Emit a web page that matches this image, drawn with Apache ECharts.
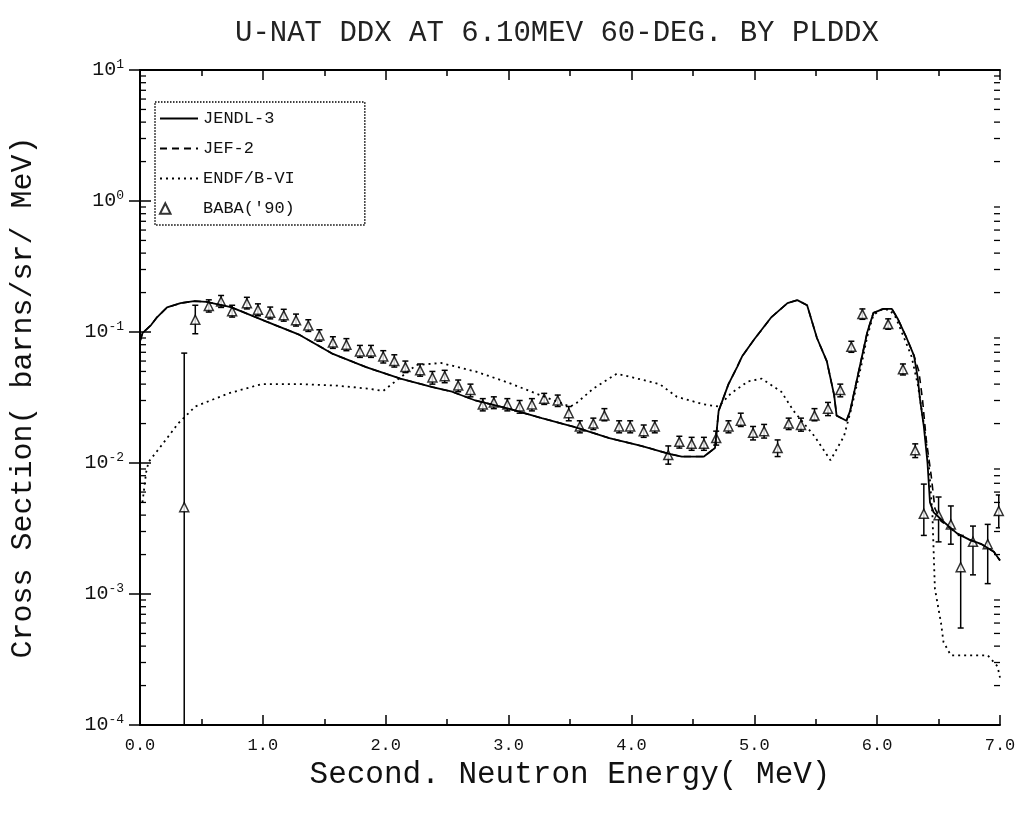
<!DOCTYPE html>
<html>
<head>
<meta charset="utf-8">
<script src="https://cdn.jsdelivr.net/npm/echarts@6/dist/echarts.min.js"></script>
<style>
html,body{margin:0;padding:0;background:#fff;}
#chart{width:1030px;height:817px;}
</style>
</head>
<body>
<div id="chart"></div>
<script>
// ---- Data ----
const titleText = "U-NAT DDX AT 6.10MEV 60-DEG. BY PLDDX";
const xTitle = "Second. Neutron Energy( MeV)";
const yTitle = "Cross Section( barns/sr/ MeV)";
const xTickLabels = ["0.0","1.0","2.0","3.0","4.0","5.0","6.0","7.0"];
const yExponents = [1, 0, -1, -2, -3, -4];
const minorMultipliers = [2,3,4,5,6,7,8,9];
const legendNames = ["JENDL-3", "JEF-2", "ENDF/B-VI", "BABA('90)"];

// JENDL-3 [E (MeV), DDX]
const jendl3 = [[0.00,0.085],[0.02,0.098],[0.09,0.113],[0.14,0.130],[0.22,0.154],[0.33,0.166],[0.44,0.172],[0.54,0.170],[0.74,0.155],[1.03,0.120],[1.30,0.095],[1.57,0.068],[1.84,0.054],[2.12,0.044],[2.38,0.038],[2.54,0.035],[2.73,0.030],[3.00,0.026],[3.27,0.022],[3.54,0.0188],[3.82,0.0155],[4.08,0.0135],[4.30,0.0118],[4.41,0.0112],[4.59,0.0112],[4.68,0.013],[4.71,0.025],[4.79,0.040],[4.86,0.054],[4.90,0.065],[5.00,0.088],[5.14,0.130],[5.27,0.166],[5.35,0.175],[5.43,0.160],[5.51,0.090],[5.59,0.060],[5.65,0.033],[5.67,0.023],[5.75,0.021],[5.78,0.025],[5.85,0.050],[5.92,0.100],[5.97,0.140],[6.05,0.150],[6.12,0.150],[6.17,0.125],[6.24,0.090],[6.30,0.066],[6.33,0.045],[6.35,0.030],[6.38,0.019],[6.41,0.010],[6.43,0.005],[6.46,0.0042],[6.55,0.0035],[6.65,0.0029],[6.75,0.0026],[6.85,0.0024],[6.95,0.0021],[7.00,0.0018]];

// JEF-2 [E, DDX]
const jef2 = [[0.00,0.085],[0.02,0.098],[0.09,0.113],[0.14,0.130],[0.22,0.154],[0.33,0.166],[0.44,0.172],[0.54,0.170],[0.74,0.155],[1.03,0.120],[1.30,0.095],[1.57,0.068],[1.84,0.054],[2.12,0.044],[2.38,0.038],[2.54,0.035],[2.73,0.030],[3.00,0.026],[3.27,0.022],[3.54,0.0188],[3.82,0.0155],[4.08,0.0135],[4.30,0.0118],[4.41,0.0112],[4.59,0.0112],[4.68,0.013],[4.71,0.025],[4.79,0.040],[4.86,0.054],[4.90,0.065],[5.00,0.088],[5.14,0.130],[5.27,0.166],[5.35,0.175],[5.43,0.160],[5.51,0.090],[5.59,0.060],[5.65,0.033],[5.67,0.023],[5.75,0.021],[5.78,0.025],[5.85,0.050],[5.92,0.100],[5.97,0.140],[6.05,0.150],[6.12,0.150],[6.17,0.125],[6.24,0.090],[6.30,0.066],[6.34,0.050],[6.37,0.030],[6.40,0.015],[6.44,0.008],[6.47,0.0045],[6.52,0.0036],[6.65,0.0029],[6.75,0.0026],[6.85,0.0024],[6.95,0.0021],[7.00,0.0018]];

// ENDF/B-VI [E, DDX]
const endfb6 = [[0.02,0.005],[0.05,0.0085],[0.07,0.0102],[0.18,0.0138],[0.31,0.020],[0.45,0.027],[0.72,0.034],[0.99,0.040],[1.30,0.040],[1.60,0.039],[1.85,0.037],[1.98,0.0355],[2.05,0.040],[2.25,0.056],[2.45,0.058],[2.73,0.050],[3.00,0.041],[3.22,0.034],[3.50,0.027],[3.54,0.028],[3.69,0.037],[3.88,0.048],[4.01,0.045],[4.23,0.040],[4.37,0.032],[4.59,0.028],[4.71,0.027],[4.81,0.034],[4.95,0.042],[5.06,0.044],[5.22,0.035],[5.32,0.025],[5.49,0.016],[5.62,0.0105],[5.73,0.016],[5.79,0.026],[5.87,0.055],[5.92,0.093],[5.97,0.135],[6.03,0.148],[6.10,0.148],[6.15,0.130],[6.22,0.090],[6.28,0.065],[6.33,0.040],[6.38,0.020],[6.42,0.010],[6.45,0.004],[6.47,0.0011],[6.52,0.0006],[6.54,0.00043],[6.60,0.00034],[6.90,0.00034],[6.98,0.00028],[7.00,0.00023]];

// BABA('90) measurement: energy, value, error-bar low, error-bar high
const babaE  = [0.36,0.45,0.56,0.66,0.75,0.87,0.96,1.06,1.17,1.27,1.37,1.46,1.57,1.68,1.79,1.88,1.98,2.07,2.16,2.28,2.38,2.48,2.59,2.69,2.79,2.88,2.99,3.09,3.19,3.29,3.40,3.49,3.58,3.69,3.78,3.90,3.99,4.10,4.19,4.30,4.39,4.49,4.59,4.69,4.79,4.89,4.99,5.08,5.19,5.28,5.38,5.49,5.60,5.70,5.79,5.88,6.09,6.21,6.31,6.38,6.50,6.60,6.68,6.78,6.90,6.99];
const babaV  = [0.0046,0.124,0.158,0.171,0.144,0.166,0.148,0.140,0.134,0.123,0.112,0.094,0.083,0.080,0.071,0.071,0.065,0.060,0.054,0.051,0.045,0.046,0.039,0.036,0.028,0.029,0.028,0.027,0.028,0.031,0.030,0.024,0.019,0.020,0.023,0.019,0.019,0.0175,0.019,0.0115,0.0145,0.014,0.014,0.0155,0.019,0.021,0.017,0.0175,0.013,0.020,0.0195,0.023,0.026,0.036,0.077,0.137,0.115,0.052,0.0125,0.0041,0.0040,0.0034,0.0016,0.0025,0.0024,0.0043];
const babaLo = [0.0001,0.097,0.142,0.154,0.130,0.150,0.133,0.126,0.121,0.111,0.101,0.085,0.075,0.072,0.064,0.064,0.058,0.054,0.049,0.046,0.040,0.041,0.035,0.032,0.025,0.026,0.025,0.024,0.025,0.028,0.027,0.021,0.017,0.018,0.021,0.017,0.017,0.0157,0.017,0.0098,0.013,0.0125,0.0125,0.0137,0.017,0.019,0.015,0.0155,0.0112,0.018,0.0175,0.021,0.023,0.032,0.070,0.125,0.105,0.047,0.011,0.0028,0.0025,0.0024,0.00055,0.0014,0.0012,0.0032];
const babaHi = [0.069,0.160,0.176,0.190,0.160,0.184,0.164,0.155,0.149,0.137,0.124,0.104,0.092,0.089,0.079,0.079,0.072,0.067,0.060,0.057,0.050,0.051,0.043,0.040,0.031,0.032,0.031,0.030,0.031,0.034,0.033,0.027,0.021,0.022,0.026,0.021,0.021,0.0195,0.021,0.0135,0.016,0.0157,0.0157,0.0175,0.021,0.024,0.019,0.0197,0.015,0.022,0.022,0.026,0.029,0.040,0.085,0.150,0.126,0.057,0.014,0.0069,0.0055,0.0047,0.0028,0.0033,0.0034,0.0057];

// ---- Chart ----
const FONT = "Liberation Mono";
const babaPoints = babaE.map((e, i) => [e, babaV[i]]);
const babaBars = babaE.map((e, i) => [e, babaLo[i], babaHi[i]]);
const minorTickVals = [];
yExponents.slice(1).forEach(ex => minorMultipliers.forEach(m => minorTickVals.push([0, m * Math.pow(10, ex)])));

const chart = echarts.init(document.getElementById('chart'), null, {renderer: 'canvas'});

const logAxisBase = {
  type: 'log', logBase: 10, min: 1e-4, max: 10,
  axisLine: {show: true, lineStyle: {color: '#000', width: 2}},
  axisTick: {show: true, inside: true, length: 11, lineStyle: {color: '#000', width: 1.5}},
  splitLine: {show: false}
};
const linAxisBase = {
  type: 'value', min: 0, max: 7, interval: 1,
  axisLine: {show: true, onZero: false, lineStyle: {color: '#000', width: 2}},
  axisTick: {show: true, inside: true, length: 10, lineStyle: {color: '#000', width: 1.5}},
  minorTick: {show: true, splitNumber: 2, length: 6, lineStyle: {color: '#000', width: 1.5}},
  splitLine: {show: false}
};

const legendData = legendNames.map((n, i) => i < 3
  ? {name: n, itemStyle: {opacity: 0}}
  : {name: n, icon: 'path://M0,10 L5,0 L10,10 Z M36,10 L36.01,10'});

const option = {
  backgroundColor: '#fff',
  animation: false,
  title: {
    text: titleText, left: 230, top: 14,
    textStyle: {fontFamily: FONT, fontSize: 29, fontWeight: 'normal', color: '#222'}
  },
  legend: {
    orient: 'vertical', left: 155, top: 102,
    padding: [8, 70, 8, 4], itemGap: 13, itemWidth: 38, itemHeight: 14,
    borderColor: '#000', borderWidth: 1.5, borderType: 'dotted', backgroundColor: '#fff',
    textStyle: {fontFamily: FONT, fontSize: 17, color: '#111'},
    data: legendData
  },
  grid: {left: 136, right: 30, top: 70, bottom: 92},
  xAxis: [
    Object.assign({}, linAxisBase, {
      position: 'bottom',
      name: xTitle, nameLocation: 'middle', nameGap: 30,
      nameTextStyle: {fontFamily: FONT, fontSize: 31, color: '#111', verticalAlign: 'top'},
      axisLabel: {margin: 12, fontFamily: FONT, fontSize: 17, color: '#111',
        formatter: v => xTickLabels[Math.round(v)] || ''}
    }),
    Object.assign({}, linAxisBase, {position: 'top', axisLabel: {show: false}})
  ],
  yAxis: [
    Object.assign({}, logAxisBase, {
      position: 'left',
      name: yTitle, nameLocation: 'middle', nameGap: 102, nameRotate: 90,
      nameTextStyle: {fontFamily: FONT, fontSize: 30, color: '#111'},
      axisLabel: {
        margin: 16, color: '#111',
        formatter: v => '{b|10}{s|' + Math.round(Math.log10(v)) + '}',
        rich: {
          b: {fontFamily: FONT, fontSize: 20, lineHeight: 24, color: '#111'},
          s: {fontFamily: FONT, fontSize: 13, lineHeight: 14, verticalAlign: 'top', color: '#111'}
        }
      }
    }),
    Object.assign({}, logAxisBase, {position: 'right', axisLabel: {show: false}})
  ],
  series: [
    {
      name: 'minorTicks', type: 'custom', silent: true, clip: false,
      data: minorTickVals, encode: {x: 0, y: 1},
      renderItem: (params, api) => {
        const cs = params.coordSys;
        const y = api.coord([0, api.value(1)])[1];
        const st = {stroke: '#000', lineWidth: 1.3};
        return {type: 'group', children: [
          {type: 'line', shape: {x1: cs.x, y1: y, x2: cs.x + 6, y2: y}, style: st},
          {type: 'line', shape: {x1: cs.x + cs.width - 6, y1: y, x2: cs.x + cs.width, y2: y}, style: st}
        ]};
      }
    },
    {
      name: 'JENDL-3', type: 'line', data: jendl3, symbol: 'none',
      lineStyle: {color: '#000', width: 1.8, type: 'solid'}, itemStyle: {color: '#000'}
    },
    {
      name: 'JEF-2', type: 'line', data: jef2, symbol: 'none',
      lineStyle: {color: '#000', width: 1.6, type: [7, 5]}, itemStyle: {color: '#000'}
    },
    {
      name: 'ENDF/B-VI', type: 'line', data: endfb6, symbol: 'none',
      lineStyle: {color: '#000', width: 1.8, type: [2, 4]}, itemStyle: {color: '#000'}
    },
    {
      name: 'babaErr', type: 'custom', clip: true, silent: true,
      data: babaBars, encode: {x: 0, y: [1, 2]},
      renderItem: (params, api) => {
        const x = api.value(0);
        const p1 = api.coord([x, api.value(1)]);
        const p2 = api.coord([x, api.value(2)]);
        const st = {stroke: '#000', lineWidth: 1.5};
        const c = 3;
        return {type: 'group', children: [
          {type: 'line', shape: {x1: p1[0], y1: p1[1], x2: p2[0], y2: p2[1]}, style: st},
          {type: 'line', shape: {x1: p1[0] - c, y1: p1[1], x2: p1[0] + c, y2: p1[1]}, style: st},
          {type: 'line', shape: {x1: p2[0] - c, y1: p2[1], x2: p2[0] + c, y2: p2[1]}, style: st}
        ]};
      }
    },
    {
      name: "BABA('90)", type: 'scatter', data: babaPoints,
      symbol: 'triangle', symbolSize: 9,
      itemStyle: {color: '#fff', borderColor: '#000', borderWidth: 1.5}
    }
  ]
};
chart.setOption(option);
</script>
</body>
</html>
